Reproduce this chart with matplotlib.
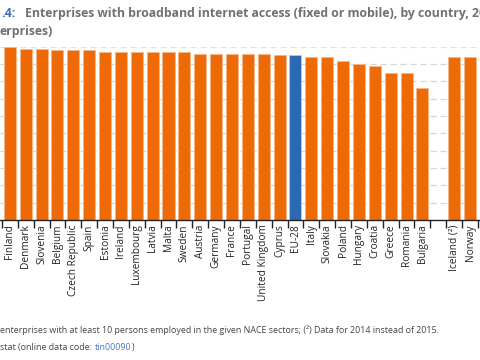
"""
Enterprises with broadband internet access (fixed or mobile), by country.
"""
import matplotlib
matplotlib.use('Agg')
import matplotlib.pyplot as plt
import matplotlib.ticker as mticker
import numpy as np

ORANGE = '#ee6a07'
BLUE = '#2b6ab2'
EDGE = '#f7b889'
TITLE_BLUE = '#3d6cb3'
TITLE_GRAY = '#707070'
TEXT_DARK = '#222222'

plt.rcParams['font.family'] = ['Open Sans', 'DejaVu Sans']

countries = [
    'Finland', 'Denmark', 'Slovenia', 'Belgium', 'Czech Republic', 'Spain',
    'Estonia', 'Ireland', 'Luxembourg', 'Latvia', 'Malta', 'Sweden',
    'Austria', 'Germany', 'France', 'Portugal', 'United Kingdom', 'Cyprus',
    'EU-28', 'Italy', 'Slovakia', 'Poland', 'Hungary', 'Croatia', 'Greece',
    'Romania', 'Bulgaria', 'Iceland (²)', 'Norway',
]
values = [
    100, 99, 99, 98, 98, 98,
    97, 97, 97, 97, 97, 97,
    96, 96, 96, 96, 96, 95,
    95, 94, 94, 92, 90, 89, 85,
    85, 76, 94, 94,
]
# slot index of each bar (one empty slot before the EFTA countries)
slots = list(range(27)) + [28, 29]

fig = plt.figure(figsize=(4.8, 3.6), dpi=100)
ax = fig.add_axes([0, 0.389, 1, 0.481])

x = np.array(slots)
bar_colors = [BLUE if c == 'EU-28' else ORANGE for c in countries]
ax.bar(x, values, width=0.76, color=bar_colors, edgecolor=EDGE,
       linewidth=0.7, zorder=3)

ax.set_xlim(-0.62, 29.63)
ax.set_ylim(0, 100)

# dashed horizontal grid
for v in range(10, 101, 10):
    ax.axhline(v, color='#d6d6d6' if v < 100 else '#e2e2e2',
               linewidth=0.9, dashes=(5, 3), zorder=1)

for side in ['left', 'right', 'top']:
    ax.spines[side].set_visible(False)
ax.spines['bottom'].set_color('#222222')
ax.spines['bottom'].set_linewidth(1.0)
ax.spines['bottom'].set_zorder(4)
ax.set_yticks([])

ax.set_xticks(x)
ax.set_xticklabels(countries, rotation=90, fontsize=7.3, color=TEXT_DARK)
ax.tick_params(axis='x', which='major', length=0, pad=3)
ax.xaxis.set_minor_locator(mticker.FixedLocator(np.arange(-0.5, 30, 1)))
ax.tick_params(axis='x', which='minor', length=5.5, width=1.0,
               color='#222222')

# title (cut at the figure edges like the source)
fig.text(0.003, 0.962, '.4:', fontsize=8.8, fontweight='bold',
         color=TITLE_BLUE, ha='left', va='center')
fig.text(0.052, 0.962,
         'Enterprises with broadband internet access (fixed or mobile), by country, 2015',
         fontsize=8.8, fontweight='bold', color=TITLE_GRAY, ha='left', va='center')
fig.text(0.0, 0.913, 'erprises)', fontsize=8.8, fontweight='bold',
         color=TITLE_GRAY, ha='left', va='center')

# footnotes
fig.text(0.0, 0.083,
         'enterprises with at least 10 persons employed in the given NACE sectors; '
         '(²) Data for 2014 instead of 2015.',
         fontsize=6.4, color='#444444', ha='left', va='center')
src = fig.text(0.0, 0.036, 'stat (online data code:', fontsize=6.4,
               color='#444444', ha='left', va='center')
fig.canvas.draw()
x1 = src.get_window_extent().x1 / fig.bbox.width
code = fig.text(x1 + 0.006, 0.036, 'tin00090', fontsize=6.4,
                color='#4a78c0', ha='left', va='center')
fig.canvas.draw()
x2 = code.get_window_extent().x1 / fig.bbox.width
fig.text(x2 + 0.001, 0.036, ')', fontsize=6.4, color='#444444',
         ha='left', va='center')

fig.savefig('out.png', dpi=100)
